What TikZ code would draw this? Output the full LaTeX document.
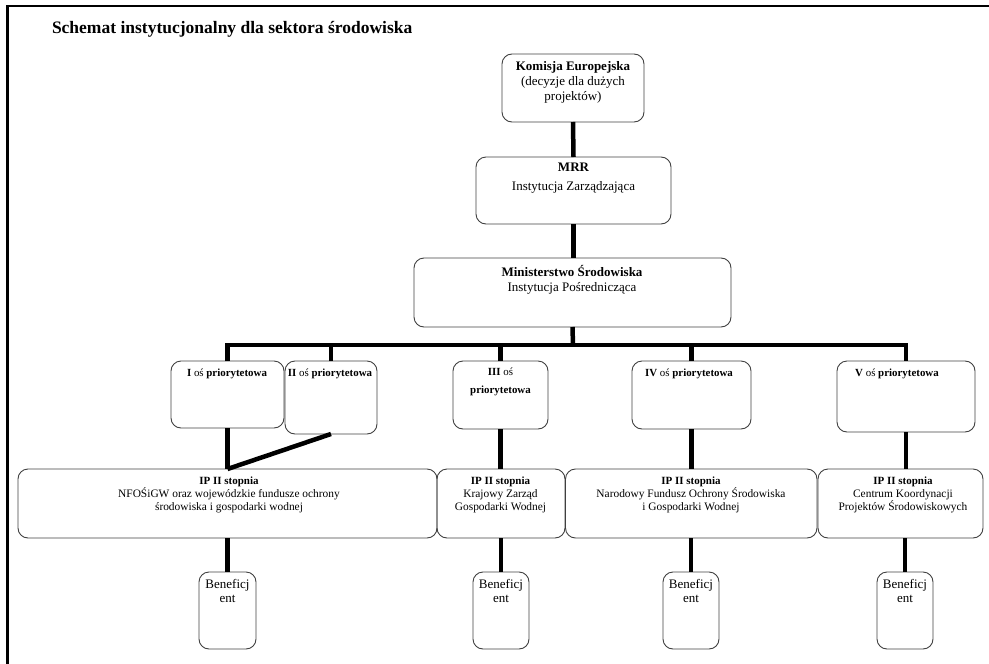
\documentclass[tikz,border=0pt]{standalone}
\usepackage{fontspec}
\setmainfont{Liberation Serif}
\begin{document}
\begin{tikzpicture}[x=1pt,y=-1pt,
  bx/.style={draw=black!75, line width=0.9pt, rounded corners=10pt, inner sep=0pt, outer sep=0pt},
  conn/.style={line width=4.5pt, black, line join=miter},
  txt/.style={anchor=base, inner sep=0pt, outer sep=0pt},
  big/.style={txt, font=\fontsize{13}{15.5}\selectfont},
  pri/.style={txt, font=\fontsize{10.9}{13}\selectfont},
  ipt/.style={txt, font=\fontsize{11.4}{13.5}\selectfont},
]
\useasboundingbox (0,0) rectangle (989,664);
\coordinate (fbl) at (7.3,664);
\coordinate (ftl) at (7.3,6);
\coordinate (ftr) at (989,6);
\draw[line width=2.7pt] (fbl) -- (ftl) -- (ftr);

\node[txt, anchor=base west, font=\fontsize{17.5}{20}\selectfont\bfseries] (title) at (52,33) {Schemat instytucjonalny dla sektora środowiska};

% boxes
\node[bx, minimum width=142pt, minimum height=68pt] (ke) at (573,88) {};
\node[bx, minimum width=195pt, minimum height=67pt] (mrr) at (573.5,190.5) {};
\node[bx, minimum width=317pt, minimum height=69pt] (ms) at (572.5,292.5) {};
\node[bx, minimum width=113pt, minimum height=67pt] (p1) at (227.5,394.5) {};
\node[bx, minimum width=92pt, minimum height=73pt] (p2) at (331,397.5) {};
\node[bx, minimum width=95pt, minimum height=68pt] (p3) at (500.5,395) {};
\node[bx, minimum width=119pt, minimum height=68pt] (p4) at (691.5,395) {};
\node[bx, minimum width=138pt, minimum height=71pt] (p5) at (906,396.5) {};
\node[bx, minimum width=419pt, minimum height=69pt] (ip1) at (227.5,503.5) {};
\node[bx, minimum width=128pt, minimum height=69pt] (ip2) at (501,503.5) {};
\node[bx, minimum width=251.5pt, minimum height=69pt] (ip3) at (691.25,503.5) {};
\node[bx, minimum width=165pt, minimum height=69pt] (ip4) at (900.5,503.5) {};
\node[bx, minimum width=57pt, minimum height=77pt] (b1) at (227.5,610.5) {};
\node[bx, minimum width=56pt, minimum height=77pt] (b2) at (501,610.5) {};
\node[bx, minimum width=56pt, minimum height=77pt] (b3) at (691,610.5) {};
\node[bx, minimum width=56pt, minimum height=77pt] (b4) at (905,610.5) {};

% texts
\node[big, font=\fontsize{13}{15.5}\selectfont\bfseries] (ke1) at (573,70) {Komisja Europejska};
\node[big] (ke2) at (573,85.5) {(decyzje dla dużych};
\node[big] (ke3) at (573,100.5) {projektów)};
\node[big, font=\fontsize{13}{15.5}\selectfont\bfseries] (mrr1) at (573.5,171) {MRR};
\node[big] (mrr2) at (573.5,190) {Instytucja Zarządzająca};
\node[big, font=\fontsize{13}{15.5}\selectfont\bfseries] (ms1) at (572,276.5) {Ministerstwo Środowiska};
\node[big] (ms2) at (572,291.5) {Instytucja Pośrednicząca};

\node[pri] (p1t) at (227,376) {\textbf{I} oś \textbf{priorytetowa}};
\node[pri] (p2t) at (330,376) {\textbf{II} oś \textbf{priorytetowa}};
\node[pri] (p3t1) at (500.5,375.5) {\textbf{III} oś};
\node[pri] (p3t2) at (500.5,393.5) {\textbf{priorytetowa}};
\node[pri] (p4t) at (689,376) {\textbf{IV} oś \textbf{priorytetowa}};
\node[pri] (p5t) at (897,376) {\textbf{V} oś \textbf{priorytetowa}};

\node[ipt, font=\fontsize{11}{13.5}\selectfont\bfseries] (ip1a) at (229,484) {IP II stopnia};
\node[ipt] (ip1b) at (229,497) {NFOŚiGW oraz wojewódzkie fundusze ochrony};
\node[ipt] (ip1c) at (229,510) {środowiska i gospodarki wodnej};
\node[ipt, font=\fontsize{11}{13.5}\selectfont\bfseries] (ip2a) at (500.5,484) {IP II stopnia};
\node[ipt] (ip2b) at (500.5,497) {Krajowy Zarząd};
\node[ipt] (ip2c) at (500.5,510) {Gospodarki Wodnej};
\node[ipt, font=\fontsize{11}{13.5}\selectfont\bfseries] (ip3a) at (691,484) {IP II stopnia};
\node[ipt] (ip3b) at (691,497) {Narodowy Fundusz Ochrony Środowiska};
\node[ipt] (ip3c) at (691,510) {i Gospodarki Wodnej};
\node[ipt, font=\fontsize{11}{13.5}\selectfont\bfseries] (ip4a) at (903,484) {IP II stopnia};
\node[ipt] (ip4b) at (903,497) {Centrum Koordynacji};
\node[ipt] (ip4c) at (903,510) {Projektów Środowiskowych};

\foreach \b/\x in {b1/227.5,b2/501,b3/691,b4/905}{
  \node[big] (\b t1) at (\x,588) {Beneficj};
  \node[big] (\b t2) at (\x,602.5) {ent};
}

% connectors
\coordinate (bus) at (573,345);
\draw[conn] (ke.south) -- (mrr.north);
\draw[conn] (mrr.south) -- (mrr.south |- ms.north);
\draw[conn] (ms.south) -- (bus);
\draw[conn] (p1.north) |- (bus) -| (p5.north);
\draw[conn] (p2.north) -- (p2.north |- bus);
\draw[conn] (p3.north) -- (p3.north |- bus);
\draw[conn] (p4.north) -- (p4.north |- bus);
\draw[conn] (p1.south) -- (ip1.north);
\draw[conn] (p2.south) -- (ip1.north);
\draw[conn] (p3.south) -- (p3.south |- ip2.north);
\draw[conn] (p4.south) -- (p4.south |- ip3.north);
\draw[conn] (p5.south) -- (p5.south |- ip4.north);
\draw[conn] (ip1.south) -- (b1.north);
\draw[conn] (ip2.south) -- (b2.north);
\draw[conn] (b3.north |- ip3.south) -- (b3.north);
\draw[conn] (b4.north |- ip4.south) -- (b4.north);
\end{tikzpicture}
\end{document}
